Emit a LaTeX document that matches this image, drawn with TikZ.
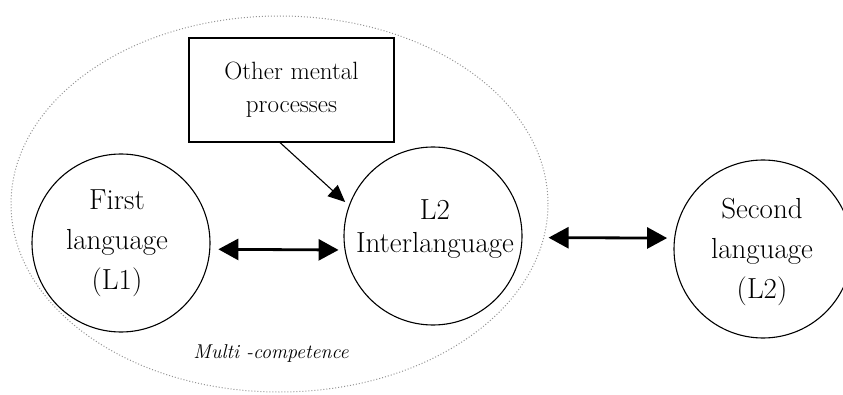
\documentclass[tikz,border=0pt]{standalone}
\usepackage{fontspec}
\usepackage{tikz}
\usetikzlibrary{arrows.meta, positioning, shapes.geometric}

\tikzset{
  langcircle/.style={draw, circle, line width=1.1pt, minimum size=178pt, inner sep=0pt},
  langtext/.style={align=center, inner sep=0pt, font=\fontsize{29}{40}\selectfont},
  procbox/.style={draw, rectangle, line width=1.1pt, minimum width=205pt, minimum height=104pt,
    align=center, font=\fontsize{25}{33}\selectfont},
  bigarrow/.style={line width=2.8pt, {Triangle[length=20pt,width=21pt]}-{Triangle[length=20pt,width=21pt]}},
  smallarrow/.style={line width=1.1pt, -{Triangle[length=17pt,width=15pt]}}
}

\begin{document}
\begin{tikzpicture}[x=1pt, y=1pt]
\useasboundingbox (0,0) rectangle (843,394);

% multi-competence area
\draw[gray!85, dotted, line width=1pt] (279.5,190) ellipse (268.5 and 188);
\node[font=\fontsize{20}{22}\selectfont\itshape] (mc) at (271,41) {Multi -competence};

\node[procbox] (omp) at (291.5,304) {Other mental\\processes};

\node[langcircle] (L1) at (121,151) {};
\node[langcircle] (IL) at (433,158) {};
\node[langcircle] (L2) at (763,145) {};
\node[langtext] (L1txt) at (117,151) {First\\language\\(L1)};
\node[langtext, font=\fontsize{29}{33}\selectfont] (ILtxt) at (435,165) {L2\\Interlanguage};
\node[langtext] (L2txt) at (762,142) {Second\\language\\(L2)};

\draw[bigarrow, shorten <=8pt, shorten >=6pt] (L1.-4.5) -- (IL.189);
\draw[bigarrow, shorten <=26pt, shorten >=7pt] (IL.-1.3) -- (L2.173);
\draw[smallarrow, shorten >=5pt] ([xshift=-11.5pt]omp.south) -- (IL.160);
\end{tikzpicture}
\end{document}
